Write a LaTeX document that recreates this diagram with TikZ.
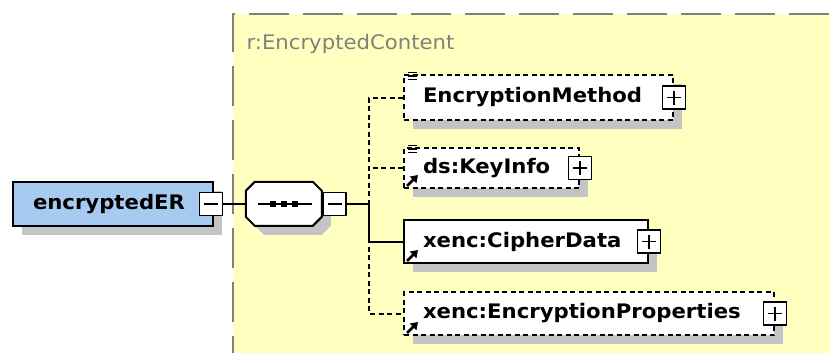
\documentclass[tikz,border=0pt]{standalone}
\usepackage{fontspec}
\newfontfamily\xsfont{DejaVu Sans}[FakeStretch=1.06]
\usetikzlibrary{shadows,arrows.meta}
\definecolor{erblue}{RGB}{166,202,240}
\definecolor{bgyellow}{RGB}{255,255,192}
\definecolor{shadowgray}{RGB}{196,196,196}
\definecolor{bordergray}{RGB}{128,128,128}
\begin{document}
\begin{tikzpicture}[x=1pt,y=-1pt,
  font=\fontsize{20}{24}\xsfont\bfseries,
  boxshadow/.style={drop shadow={shadow xshift=9pt,shadow yshift=-9pt,
    opacity=1,fill=shadowgray}},
  elembox/.style={draw,line width=2pt,fill=white,anchor=west,
    inner xsep=19pt,inner ysep=0pt,align=left,boxshadow},
  optbox/.style={elembox,dash pattern=on 5pt off 3.5pt},
  seqline/.style={line width=2pt,fill=white,boxshadow},
  togglebox/.style={draw,line width=1.6pt,fill=white,inner sep=0pt,
    minimum width=23pt,minimum height=23pt},
  plusbox/.style={togglebox,path picture={
    \draw[line width=1.6pt] (path picture bounding box.center)
      ++(-7,0) -- ++(14,0) ++(-7,-7) -- ++(0,14);}},
  minusbox/.style={togglebox,path picture={
    \draw[line width=1.6pt] (path picture bounding box.center)
      ++(-7,0) -- ++(14,0);}},
  reqline/.style={line width=2pt},
  optline/.style={line width=2pt,dash pattern=on 5pt off 3.5pt},
  iconline/.style={line width=1.1pt},
  refarrow/.style={line width=2.8pt,-{Triangle[length=7pt,width=9pt]}}
]
\useasboundingbox (0,0) rectangle (830,353);
% content model area
\fill[bgyellow] (233,14) rectangle (830,353);
\draw[bordergray,line width=2.2pt,dash pattern=on 40pt off 14pt,dash phase=23pt]
  (233,353) -- (233,14) -- (830,14);
\node[anchor=west,font=\fontsize{20}{24}\xsfont,text=bordergray]
  (grouplabel) at (243,44) {r:EncryptedContent};
% root element and sequence
\node[elembox,fill=erblue,text width=160pt,inner xsep=20pt,minimum height=44pt]
  (er) at (12,204) {encryptedER};
\node[minusbox] (erminus) at (211,204) {};
\node[inner sep=0pt,minimum width=76pt,minimum height=44pt] (seq) at (284,204) {};
\draw[seqline] (seq.north west) ++(0,9) -- ++(0,26) -- ++(9,9) -- ++(58,0)
  -- ++(9,-9) -- ++(0,-26) -- ++(-9,-9) -- ++(-58,0) -- cycle;
\draw[reqline] ([xshift=-26pt]seq.center) -- ([xshift=28pt]seq.center);
\foreach \dx in {-11,0,11}
  \fill ([xshift=\dx pt]seq.center) +(-3,-3) rectangle +(3,3);
\node[minusbox] (seqminus) at (334.5,204) {};
\coordinate (fork) at (369,204);
% children
\node[optbox,text width=231pt,minimum height=45pt]
  (encmethod) at (403,97.5) {EncryptionMethod};
\node[optbox,text width=137pt,minimum height=40pt]
  (keyinfo) at (403,168) {ds:KeyInfo};
\node[elembox,text width=206pt,minimum height=43pt]
  (cipher) at (403,241.5) {xenc:CipherData};
\node[optbox,text width=332pt,minimum height=43pt]
  (encprops) at (403,313.5) {xenc:EncryptionProperties};
\node[plusbox] (encmethodplus) at (encmethod.east) {};
\node[plusbox] (keyinfoplus) at (keyinfo.east) {};
\node[plusbox] (cipherplus) at (cipher.east) {};
\node[plusbox] (encpropsplus) at (encprops.east) {};
% icons
\foreach \n in {encmethod,keyinfo}
  \foreach \dy in {-1.5,2,5.5}
    \draw[iconline,fill=white] (\n.north west) ++(5,\dy) -- ++(9,0);
\foreach \n in {keyinfo,cipher,encprops}
  \draw[refarrow] (\n.south west) ++(4,-3) -- ++(11,-11);
% connectors
\draw[reqline] (erminus) -- (seq);
\draw[optline] (encmethod.west) -| (fork);
\draw[optline] (keyinfo.west) -- (keyinfo.west -| fork);
\draw[optline] (fork) |- (encprops.west);
\draw[reqline] (seqminus) -- (fork) |- (cipher.west);
\end{tikzpicture}
\end{document}
